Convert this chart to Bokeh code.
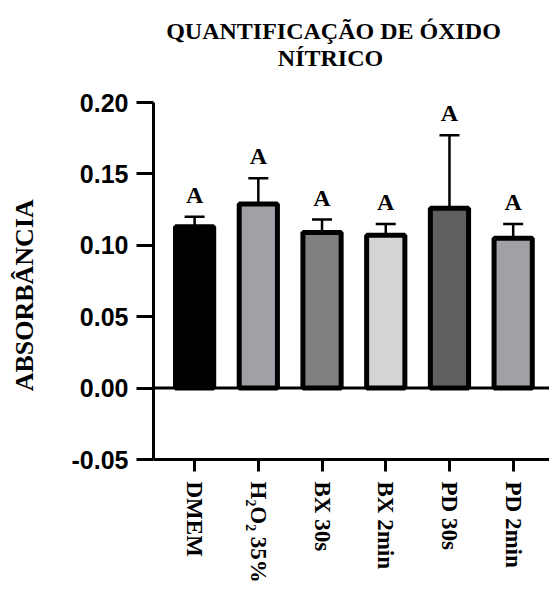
import math
from bokeh.plotting import figure
from bokeh.layouts import column, row
from bokeh.models import (ColumnDataSource, Range1d, FixedTicker, Whisker, TeeHead, Span)
from bokeh.core.properties import value
from bokeh.embed import file_html
from bokeh.resources import INLINE

categories = ["DMEM", "H\u2082O\u2082 35%", "BX 30s", "BX 2min", "PD 30s", "PD 2min"]
means = [0.113, 0.129, 0.109, 0.107, 0.126, 0.105]
err_upper = [0.120, 0.147, 0.118, 0.115, 0.177, 0.115]
letters = ["A", "A", "A", "A", "A", "A"]
fills = ["#000000", "#a1a0a6", "#808080", "#d4d4d4", "#606060", "#a1a0a6"]
y_ticks = [-0.05, 0.0, 0.05, 0.10, 0.15, 0.20]
title_lines = ["QUANTIFICAÇÃO DE ÓXIDO", "NÍTRICO"]
y_title = ["ABSORBÂNCIA"]

TITLE_H = 87
LAB_W = 50
MAIN_H = 590 - TITLE_H
TOP_B = 102 - TITLE_H
BOT_B = 131

yr = Range1d(-0.05, 0.20)

# title figure
tf = figure(width=549, height=TITLE_H, output_backend="svg", toolbar_location=None,
            x_range=Range1d(0, 549), y_range=Range1d(0, TITLE_H),
            min_border=0, min_border_left=0, min_border_right=0,
            min_border_top=0, min_border_bottom=0)
tf.axis.visible = False
tf.grid.visible = False
tf.outline_line_color = None
tsrc = ColumnDataSource(dict(x=[333, 330], y=[TITLE_H - 30, TITLE_H - 57], t=title_lines))
tf.text(x="x", y="y", text="t", source=tsrc, text_align="center", text_baseline="alphabetic",
        text_font=value("Liberation Serif"), text_font_size="24px",
        text_font_style="bold", text_color="black")

# y-axis title figure (frame matches the main chart's frame)
lf = figure(width=LAB_W, height=MAIN_H, output_backend="svg", toolbar_location=None,
            x_range=Range1d(0, LAB_W), y_range=yr,
            min_border_left=0, min_border_right=0,
            min_border_top=TOP_B, min_border_bottom=BOT_B)
lf.axis.visible = False
lf.grid.visible = False
lf.outline_line_color = None
lsrc = ColumnDataSource(dict(x=[24], y=[0.065], t=y_title))
lf.text(x="x", y="y", text="t", source=lsrc, angle=math.pi / 2, text_align="center",
        text_baseline="middle", text_font=value("Liberation Serif"), text_font_size="26px",
        text_font_style="bold", text_color="black")

# main chart
xs = list(range(len(categories)))
src = ColumnDataSource(dict(x=xs, top=means, upper=err_upper, lab=letters, fill=fills))

p = figure(width=549 - LAB_W, height=MAIN_H, output_backend="svg", toolbar_location=None,
           x_range=Range1d(-0.645, 5.57), y_range=yr,
           min_border_left=153 - LAB_W, min_border_right=0,
           min_border_top=TOP_B, min_border_bottom=BOT_B)
p.outline_line_color = None
p.xgrid.visible = False
p.ygrid.visible = False

p.vbar(x="x", top="top", bottom=0, width=0.6, source=src, fill_color="fill",
       line_color="black", line_width=5)

w = Whisker(base="x", upper="upper", lower="top", source=src, dimension="height",
            line_color="black", line_width=2.5,
            upper_head=TeeHead(size=20, line_width=2.5, line_color="black"),
            lower_head=None)
p.add_layout(w)

p.text(x="x", y="upper", text="lab", source=src, text_align="center",
       text_baseline="bottom", y_offset=-9, text_font=value("Liberation Serif"),
       text_font_style="bold", text_font_size="24px", text_color="black")

p.add_layout(Span(location=0, dimension="width", line_color="black", line_width=3))

ya = p.yaxis[0]
ya.ticker = FixedTicker(ticks=y_ticks)
ya.major_label_overrides = {t: ("%.2f" % t) for t in y_ticks}
ya.major_label_text_font = "Liberation Sans"
ya.major_label_text_font_style = "bold"
ya.major_label_text_font_size = "25px"
ya.major_label_text_color = "black"
ya.major_label_standoff = 8
ya.axis_line_width = 3
ya.major_tick_line_width = 3
ya.major_tick_out = 17
ya.major_tick_in = 0
ya.minor_tick_line_color = None

xa = p.xaxis[0]
xa.ticker = FixedTicker(ticks=xs)
xa.major_label_overrides = {i: c for i, c in zip(xs, categories)}
xa.major_label_orientation = -math.pi / 2
xa.major_label_text_font = "Liberation Serif"
xa.major_label_text_font_style = "bold"
xa.major_label_text_font_size = "23px"
xa.major_label_text_color = "black"
xa.major_label_standoff = 10
xa.axis_line_width = 3
xa.major_tick_line_width = 3
xa.major_tick_out = 12
xa.major_tick_in = 0
xa.minor_tick_line_color = None

layout = column(tf, row(lf, p, spacing=0), spacing=0)
open("out.html", "w").write(file_html(layout, INLINE))
